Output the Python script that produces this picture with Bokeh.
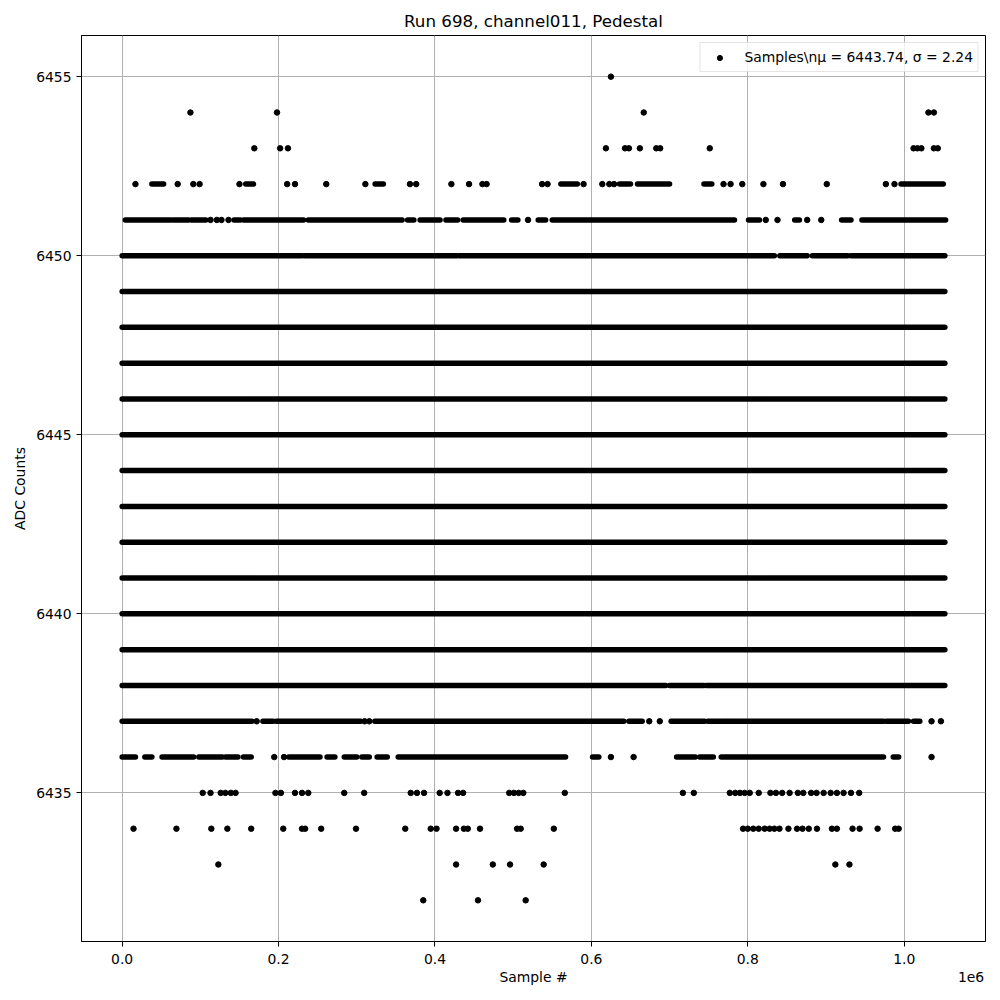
from bokeh.plotting import figure
from bokeh.models import (Range1d, FixedTicker, Legend, LegendItem, ColumnDataSource,
                          LinearAxis)
from bokeh.embed import file_html
from bokeh.resources import INLINE

FONT = "DejaVu Sans"

# ---------------- data (Sample #, ADC counts) ----------------
title_text = "Run 698, channel011, Pedestal"
legend_text = "Samples\\nμ = 6443.74, σ = 2.24"
x_label = "Sample #"
x_offset_text = "1e6"
y_label = "ADC Counts"
x_ticks = [0, 200000, 400000, 600000, 800000, 1000000]
x_tick_labels = ["0.0", "0.2", "0.4", "0.6", "0.8", "1.0"]
y_ticks = [6435, 6440, 6445, 6450, 6455]

# levels that are filled all along the run
dense_levels = [6439, 6440, 6441, 6442, 6443, 6444, 6445, 6446, 6447, 6448, 6449]
dense_first = 0
dense_last = 1052000

# partly filled levels: continuous stretches (first sample, last sample)
runs_6452 = [(38000, 53000), (158000, 168000), (323500, 334000), (561000, 582000),
             (636000, 650000), (659000, 700000), (744000, 754000), (996000, 1050000)]
runs_6451 = [(4000, 63000), (66000, 85000), (88500, 107000), (143000, 151000),
             (155000, 232000), (238000, 358000), (365000, 373000), (381000, 406500),
             (414000, 429000), (436000, 488000), (498000, 506000), (532000, 541500),
             (550000, 783000), (801000, 815000), (860000, 866000), (920000, 932000),
             (946000, 1053000)]
runs_6450 = [(0, 230000), (233000, 428000), (431000, 834000), (841000, 876000),
             (882500, 928000), (932000, 1052000)]
runs_6438 = [(0, 695000), (700000, 744000), (747000, 1052000)]
runs_6437 = [(0, 166000), (180000, 193000), (197000, 305000), (323000, 641500),
             (648000, 665000), (702000, 745000), (749000, 773500), (775500, 973600),
             (977000, 1005500), (1012000, 1020000)]
runs_6436 = [(0, 17000), (29000, 38000), (51000, 91500), (98000, 128000),
             (132000, 148000), (155000, 165000), (213000, 253000), (262000, 272000),
             (284000, 300000), (306500, 316000), (326000, 339000), (353000, 567000),
             (601500, 609500), (709000, 733000), (738500, 756000), (766000, 973600),
             (986000, 993000)]

# isolated samples
pts_6455 = [625000]
pts_6454 = [87300, 198000, 667000, 1031000, 1038000]
pts_6453 = [169000, 202000, 212000, 618600, 643000, 648000, 662000, 683000, 688000,
            751400, 1012000, 1017000, 1022000, 1038000, 1043000]
pts_6452 = [17000, 71000, 91000, 99000, 150000, 211000, 221000, 261000, 311000, 368000,
            376000, 421000, 443600, 460700, 466000, 537000, 544000, 590000, 614000,
            623000, 629000, 769000, 778000, 793000, 820000, 845000, 901000, 976600, 987600]
pts_6451 = [113000, 121000, 127000, 136000, 519000, 823000, 838000, 876000, 894000]
pts_6437 = [172000, 310000, 316000, 674000, 687500, 1035000, 1047000]
pts_6436 = [194500, 207000, 625000, 654000, 1035000]
pts_6435 = [103000, 113000, 126000, 132000, 139000, 145000, 196000, 203000, 221000,
            230000, 238000, 284000, 309500, 369000, 377000, 386000, 406000, 416000,
            429500, 436000, 495000, 501000, 507000, 513000, 566000, 717000, 731000,
            777000, 784000, 790000, 796000, 802500, 814000, 829000, 836000, 844000,
            853500, 864000, 871000, 881000, 888000, 897000, 906000, 914000, 922500,
            932000, 942500]
pts_6434 = [14500, 69400, 114000, 134500, 165000, 206000, 230000, 234000, 254500,
            299000, 362000, 394600, 402000, 427000, 437000, 442000, 457600, 505000,
            509600, 552000, 794000, 800000, 807000, 814000, 821600, 828000, 834000,
            840500, 852000, 863000, 870000, 878000, 888500, 907600, 914000, 934000,
            943000, 966000, 988500, 993000]
pts_6433 = [123000, 427000, 474000, 496000, 539000, 912000, 930000]
pts_6432 = [385000, 455000, 516000]

# ---------------- assemble sources ----------------
run_sets = [(6452, runs_6452), (6451, runs_6451), (6450, runs_6450),
            (6438, runs_6438), (6437, runs_6437), (6436, runs_6436)]
x0, x1, yr = [], [], []
for lvl in dense_levels:
    x0.append(dense_first); x1.append(dense_last); yr.append(lvl)
for lvl, runs in run_sets:
    for a, b in runs:
        x0.append(a); x1.append(b); yr.append(lvl)
run_src = ColumnDataSource(dict(x0=x0, x1=x1, y=yr))

pt_sets = [(6455, pts_6455), (6454, pts_6454), (6453, pts_6453), (6452, pts_6452),
           (6451, pts_6451), (6437, pts_6437), (6436, pts_6436), (6435, pts_6435),
           (6434, pts_6434), (6433, pts_6433), (6432, pts_6432)]
px, py = [], []
for lvl, pts in pt_sets:
    for v in pts:
        px.append(v); py.append(lvl)
pt_src = ColumnDataSource(dict(x=px, y=py))

# ---------------- figure ----------------
p = figure(frame_width=904, frame_height=906,
           x_range=Range1d(-52000, 1104000), y_range=Range1d(6430.85, 6456.15),
           output_backend="svg", toolbar_location=None,
           min_border_left=81, min_border_right=12, min_border_top=35, min_border_bottom=55)

p.title.text = title_text
p.title.align = "center"
p.title.text_font = FONT
p.title.text_font_size = "16.7px"
p.title.text_font_style = "normal"
p.title.text_color = "black"

p.outline_line_color = "black"
p.outline_line_width = 1
p.outline_line_alpha = 1

for g in (p.xgrid, p.ygrid):
    g.grid_line_color = "#b0b0b0"
    g.grid_line_width = 1
p.xgrid.ticker = FixedTicker(ticks=x_ticks)
p.ygrid.ticker = FixedTicker(ticks=y_ticks)

xax = p.xaxis[0]
yax = p.yaxis[0]
xax.ticker = FixedTicker(ticks=x_ticks)
xax.major_label_overrides = {t: s for t, s in zip(x_ticks, x_tick_labels)}
yax.ticker = FixedTicker(ticks=y_ticks)
yax.axis_label = y_label
for ax in (xax, yax):
    ax.axis_line_color = "black"
    ax.major_tick_line_color = "black"
    ax.major_tick_out = 5
    ax.major_tick_in = 0
    ax.minor_tick_line_color = None
    ax.major_label_text_font = FONT
    ax.major_label_text_font_size = "13.9px"
    ax.major_label_text_color = "black"
    ax.major_label_standoff = 5
    ax.axis_label_text_font = FONT
    ax.axis_label_text_font_size = "13.9px"
    ax.axis_label_text_font_style = "normal"
    ax.axis_label_text_color = "black"
xax.major_label_standoff = 7
yax.axis_label_standoff = 5

# second row under the x axis: axis title (centred) and the offset text "1e6" (right)
label_row_pos = [526000, 1085500]
label_row = LinearAxis(ticker=FixedTicker(ticks=label_row_pos),
                       major_label_overrides={label_row_pos[0]: x_label,
                                              label_row_pos[1]: x_offset_text},
                       axis_line_color=None, major_tick_line_color=None,
                       minor_tick_line_color=None, major_tick_out=0, major_tick_in=0,
                       major_label_standoff=2, major_label_text_font=FONT,
                       major_label_text_font_size="13.9px", major_label_text_color="black")
p.add_layout(label_row, "below")

p.segment(x0="x0", y0="y", x1="x1", y1="y", source=run_src,
          line_color="black", line_width=5.5, line_cap="round")
sc = p.scatter(x="x", y="y", source=pt_src, size=5.5, marker="circle",
               fill_color="black", line_color="black")

legend = Legend(items=[LegendItem(label=legend_text, renderers=[sc])],
                location="top_right")
legend.margin = 7
legend.padding = 4
legend.spacing = 0
legend.glyph_width = 30
legend.glyph_height = 13
legend.label_height = 20
legend.label_standoff = 10
legend.label_text_font = FONT
legend.label_text_font_size = "13.9px"
legend.label_text_color = "black"
legend.border_line_color = "#cccccc"
legend.border_line_width = 1
legend.background_fill_alpha = 0.8
p.add_layout(legend, "center")

open("out.html", "w").write(file_html(p, INLINE))
